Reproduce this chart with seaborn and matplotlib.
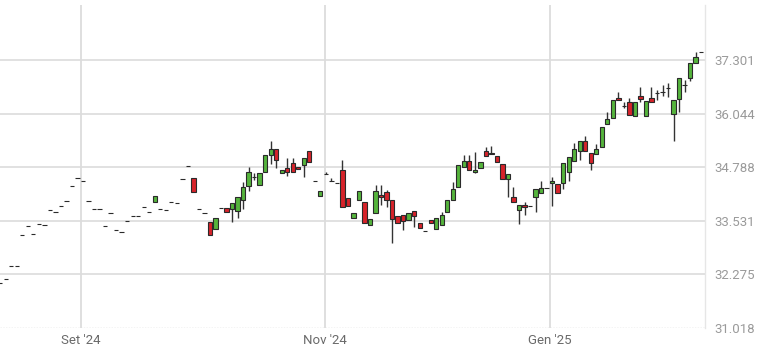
import numpy as np
import matplotlib
matplotlib.use("Agg")
import matplotlib.pyplot as plt
import seaborn as sns

# ================= 数据 =================
# 日K线 (交易日序号 0..127), 开/高/低/收
opens = [32.08, 32.16, 32.47, 32.47, 33.19, 33.40, 33.21, 33.45, 33.43, 33.78,
         33.74, 33.88, 34.00, 34.35, 34.53, 34.46, 34.00, 33.81, 33.81, 33.40,
         33.71, 33.32, 33.27, 33.53, 33.65, 33.65, 33.86, 33.74, 33.98, 33.81,
         33.79, 33.96, 33.94, 34.51, 34.82, 34.53, 33.81, 33.71, 33.50, 33.34,
         33.84, 33.84, 33.80, 33.75, 34.02, 34.35, 34.56, 34.37, 34.68, 35.07,
         35.21, 34.64, 34.76, 34.89, 34.79, 34.84, 35.17, 34.46, 34.12, 34.63,
         34.46, 34.42, 34.72, 34.06, 33.60, 34.03, 33.98, 33.43, 33.71, 34.14,
         34.21, 34.03, 33.64, 33.66, 33.55, 33.76, 33.47, 33.30, 33.55, 33.33,
         33.43, 33.73, 34.03, 34.33, 34.80, 34.94, 34.67, 34.78, 35.17, 35.13,
         35.05, 34.86, 34.50, 34.10, 33.78, 33.90, 33.87, 34.10, 34.19, 34.31,
         34.42, 34.39, 34.42, 34.68, 34.93, 35.17, 35.41, 35.11, 35.09, 35.27,
         35.80, 35.93, 36.40, 36.23, 36.31, 35.99, 36.46, 35.99, 36.40, 36.52,
         36.56, 36.64, 36.03, 36.38, 36.71, 36.89, 37.22, 37.48]
highs = [32.08, 32.16, 32.47, 32.47, 33.19, 33.40, 33.21, 33.45, 33.43, 33.78,
         33.74, 33.88, 34.00, 34.35, 34.53, 34.46, 34.00, 33.81, 33.81, 33.40,
         33.71, 33.32, 33.27, 33.53, 33.65, 33.65, 33.86, 33.74, 34.12, 33.81,
         33.79, 33.96, 33.94, 34.51, 34.82, 34.53, 33.81, 33.71, 33.50, 33.60,
         33.84, 33.84, 33.94, 34.10, 34.44, 34.80, 34.65, 34.66, 35.07, 35.39,
         35.21, 34.71, 35.01, 35.00, 34.79, 35.00, 35.17, 34.46, 34.23, 34.68,
         34.54, 34.42, 34.96, 34.06, 33.72, 34.23, 33.98, 33.58, 34.37, 34.37,
         34.25, 34.03, 33.64, 33.66, 33.71, 33.76, 33.47, 33.30, 33.55, 33.60,
         33.74, 34.02, 34.45, 34.84, 35.07, 35.07, 35.15, 34.92, 35.25, 35.28,
         35.05, 34.86, 34.62, 34.33, 33.90, 33.98, 33.87, 34.27, 34.46, 34.31,
         34.56, 34.39, 34.88, 35.02, 35.36, 35.41, 35.53, 35.11, 35.32, 35.72,
         36.09, 36.36, 36.56, 36.32, 36.40, 36.31, 36.66, 36.35, 36.67, 36.60,
         36.71, 36.75, 36.36, 36.87, 36.83, 37.24, 37.49, 37.48]
lows = [32.08, 32.16, 32.47, 32.47, 33.19, 33.40, 33.21, 33.45, 33.43, 33.78,
        33.74, 33.88, 34.00, 34.35, 34.53, 34.46, 34.00, 33.81, 33.81, 33.40,
        33.71, 33.32, 33.27, 33.53, 33.65, 33.65, 33.86, 33.74, 33.98, 33.81,
        33.79, 33.96, 33.94, 34.51, 34.82, 34.20, 33.81, 33.71, 33.19, 33.34,
        33.84, 33.74, 33.51, 33.60, 33.81, 34.23, 34.49, 34.37, 34.68, 34.86,
        34.78, 34.64, 34.59, 34.67, 34.75, 34.55, 34.90, 34.46, 34.12, 34.63,
        34.46, 34.42, 33.86, 33.88, 33.60, 34.03, 33.47, 33.43, 33.71, 33.90,
        33.86, 33.00, 33.47, 33.32, 33.55, 33.39, 33.36, 33.30, 33.47, 33.33,
        33.43, 33.73, 34.03, 34.33, 34.80, 34.72, 34.64, 34.78, 35.06, 35.10,
        34.92, 34.50, 34.10, 33.96, 33.45, 33.67, 33.87, 33.74, 34.19, 34.31,
        33.88, 34.19, 34.27, 34.46, 34.93, 34.96, 35.17, 34.72, 35.09, 35.27,
        35.80, 35.93, 36.36, 36.17, 36.01, 35.99, 36.31, 35.99, 36.32, 36.36,
        36.46, 36.44, 35.41, 36.09, 36.56, 36.81, 37.22, 37.48]
closes = [32.08, 32.16, 32.47, 32.47, 33.19, 33.40, 33.21, 33.45, 33.43, 33.78,
          33.74, 33.88, 34.00, 34.35, 34.53, 34.46, 34.00, 33.81, 33.81, 33.40,
          33.71, 33.32, 33.27, 33.53, 33.65, 33.65, 33.86, 33.74, 34.12, 33.81,
          33.79, 33.96, 33.94, 34.51, 34.82, 34.20, 33.81, 33.71, 33.19, 33.60,
          33.84, 33.74, 33.94, 34.10, 34.33, 34.68, 34.56, 34.66, 35.07, 35.21,
          34.96, 34.71, 34.68, 34.67, 34.75, 35.00, 34.90, 34.46, 34.23, 34.63,
          34.46, 34.42, 33.86, 33.88, 33.72, 34.23, 33.47, 33.58, 34.23, 34.09,
          34.02, 33.58, 33.47, 33.53, 33.71, 33.65, 33.36, 33.30, 33.47, 33.60,
          33.66, 34.02, 34.27, 34.84, 34.94, 34.72, 34.72, 34.92, 35.06, 35.10,
          34.92, 34.50, 34.62, 33.96, 33.90, 33.86, 33.87, 34.27, 34.31, 34.31,
          34.46, 34.19, 34.88, 35.02, 35.21, 35.41, 35.17, 34.88, 35.21, 35.72,
          35.91, 36.36, 36.36, 36.23, 36.01, 36.31, 36.39, 36.35, 36.32, 36.52,
          36.56, 36.64, 36.36, 36.87, 36.71, 37.24, 37.38, 37.48]

# 坐标轴刻度
y_ticks = [31.018, 32.275, 33.531, 34.788, 36.044, 37.301]
y_labels = ["31.018", "32.275", "33.531", "34.788", "36.044", "37.301"]
x_ticks = [14.6, 58.8, 99.6]
x_labels = ["Set '24", "Nov '24", "Gen '25"]

GREEN = "#55b43c"
RED = "#d7232a"
EDGE = "#2a2a2a"
GRID = "#dcdcdc"
# =======================================

sns.set_theme(style="white")
plt.rcParams["font.family"] = ["Roboto", "DejaVu Sans"]

o = np.array(opens)
h = np.array(highs)
l = np.array(lows)
c = np.array(closes)
idx = np.arange(len(o))

fig = plt.figure(figsize=(7.74, 3.55), dpi=100)
ax = fig.add_axes([0.0, 1 - 328 / 355, 705 / 774, 323 / 355])

# 网格
for t in y_ticks[1:]:
    ax.axhline(t, color=GRID, lw=1.2, zorder=0)
ax.axhline(y_ticks[0], color="#c8c8c8", lw=1.0, ls=(0, (1, 1)), zorder=0)
for t in x_ticks:
    ax.axvline(t, color=GRID, lw=1.3, zorder=0)

# 影线
m = h > l
ax.vlines(idx[m], l[m], h[m], color="#333333", lw=1.0, zorder=2)

# 实体
colors = np.where(c > o, GREEN, np.where(c < o, RED, EDGE))
ax.bar(idx, c - o, bottom=o, width=0.78, color=colors, edgecolor=EDGE,
       linewidth=0.8, zorder=3)

ax.set_xlim(-0.04, 127.7)
ax.set_ylim(31.018, 31.018 + 323 / 42.66)

ax.yaxis.tick_right()
ax.set_yticks(y_ticks)
ax.set_yticklabels(y_labels)
ax.set_xticks(x_ticks)
ax.set_xticklabels(x_labels)
ax.tick_params(axis="y", length=0, pad=7, labelsize=9.5, labelcolor="#9a9a9a")
ax.tick_params(axis="x", length=0, pad=4, labelsize=9.5, labelcolor="#6a6a6a")

for s in ["top", "left", "bottom"]:
    ax.spines[s].set_visible(False)
ax.spines["right"].set_color("#e6e6e6")
ax.spines["right"].set_linewidth(1.0)

fig.savefig("out.png", dpi=100)
